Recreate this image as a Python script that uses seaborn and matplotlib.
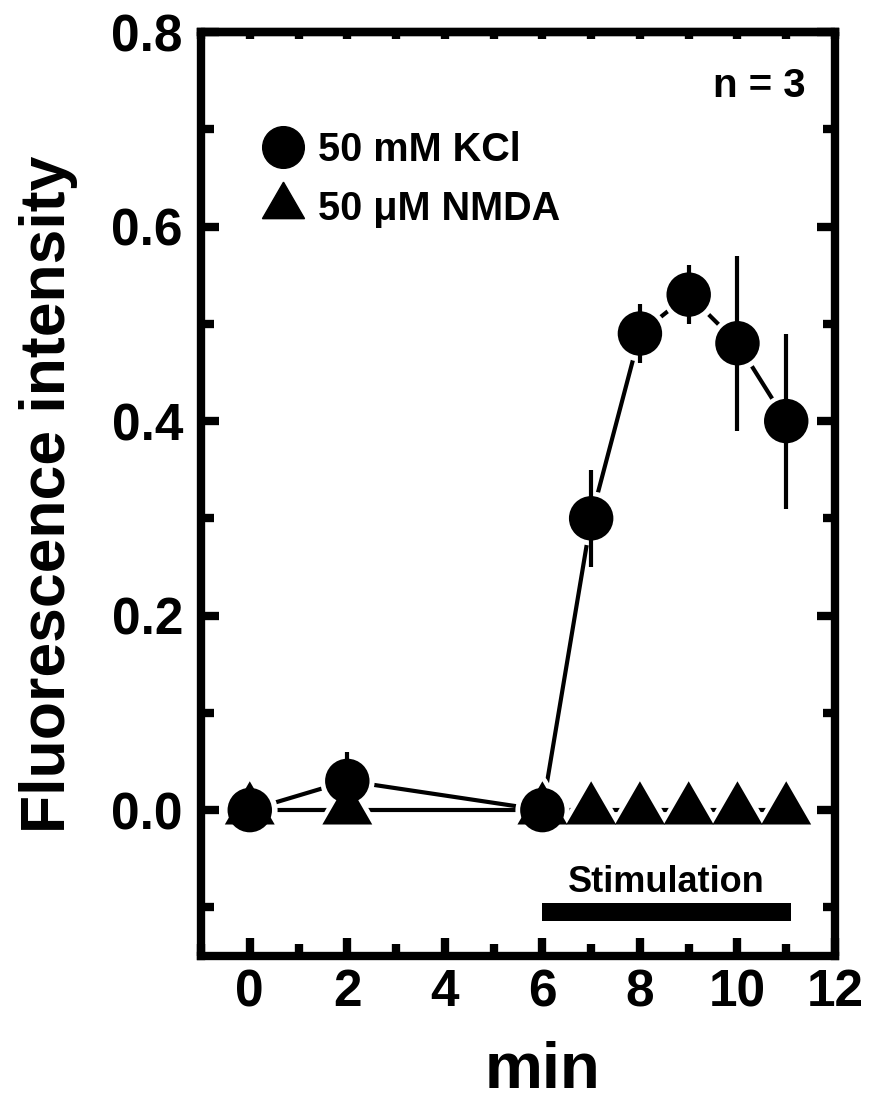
import numpy as np
import pandas as pd
import matplotlib
matplotlib.use("Agg")
import matplotlib.pyplot as plt
from matplotlib.lines import Line2D
from matplotlib.ticker import MultipleLocator
import seaborn as sns

# ---- data -------------------------------------------------------------
kcl_time = [0, 2, 6, 7, 8, 9, 10, 11]
kcl_mean = [0.0, 0.03, 0.0, 0.30, 0.49, 0.53, 0.48, 0.40]
kcl_err = [0.0, 0.03, 0.0, 0.05, 0.03, 0.03, 0.09, 0.09]

nmda_time = [0, 2, 6, 7, 8, 9, 10, 11]
nmda_mean = [0.0, 0.0, 0.0, 0.0, 0.0, 0.0, 0.0, 0.0]
nmda_err = [0.0, 0.0, 0.0, 0.0, 0.0, 0.0, 0.0, 0.0]

labels = ["50 mM KCl", "50 \u03bcM NMDA"]
stim_start, stim_end = 6.0, 11.1
x_ticks = [0, 2, 4, 6, 8, 10, 12]
y_ticks = [0.0, 0.2, 0.4, 0.6, 0.8]

df = pd.concat([
    pd.DataFrame({"min": kcl_time, "value": kcl_mean, "err": kcl_err, "cond": labels[0]}),
    pd.DataFrame({"min": nmda_time, "value": nmda_mean, "err": nmda_err, "cond": labels[1]}),
], ignore_index=True)

# ---- style ------------------------------------------------------------
sns.set_theme(style="ticks")
plt.rcParams["font.family"] = ["Liberation Sans", "DejaVu Sans"]
plt.rcParams["font.weight"] = "bold"
plt.rcParams["axes.labelweight"] = "bold"
for key in ["text.color", "axes.labelcolor", "xtick.color", "ytick.color",
            "xtick.labelcolor", "ytick.labelcolor", "axes.edgecolor"]:
    plt.rcParams[key] = "black"

W, H, DPI = 879, 1103, 100
fig = plt.figure(figsize=(W / DPI, H / DPI), dpi=DPI)
ax = fig.add_axes([201 / W, 1 - 956 / H, (835 - 201) / W, (956 - 32) / H])

circle_ms = 32.0          # marker size in points
tri_marker = (3, 0, 0)    # equilateral triangle
tri_ms = 41.5
pal = {labels[0]: "black", labels[1]: "black"}

# connecting lines
sns.lineplot(data=df, x="min", y="value", hue="cond", palette=pal,
             estimator=None, sort=True, lw=3.0, legend=False, ax=ax, zorder=1)

# white halos leave a small gap between the lines and each marker
for cond, mk, ms in [(labels[0], "o", circle_ms), (labels[1], tri_marker, tri_ms)]:
    sub = df[df["cond"] == cond]
    sns.scatterplot(data=sub, x="min", y="value", marker=mk, s=ms ** 2,
                    color="black", edgecolor="white", linewidth=7,
                    legend=False, ax=ax, zorder=2)

# error bars
sub = df[df["cond"] == labels[0]]
ax.errorbar(sub["min"], sub["value"], yerr=sub["err"], fmt="none",
            ecolor="black", elinewidth=3.0, capsize=0, zorder=3)

# solid markers on top
for cond, mk, ms in [(labels[1], tri_marker, tri_ms), (labels[0], "o", circle_ms)]:
    sub = df[df["cond"] == cond]
    sns.scatterplot(data=sub, x="min", y="value", marker=mk, s=ms ** 2,
                    color="black", edgecolor="none", linewidth=0,
                    legend=False, ax=ax, zorder=4)

# stimulation bar
ax.fill_between([stim_start, stim_end], -0.114, -0.095, color="black",
                lw=0, zorder=2)
ax.text((stim_start + stim_end) / 2, -0.084, "Stimulation", ha="center",
        va="baseline", fontsize=26, fontweight="bold", color="black")

ax.text(0.953, 0.930, "n = 3", transform=ax.transAxes, ha="right",
        va="baseline", fontsize=29, fontweight="bold", color="black")

# ---- axes -------------------------------------------------------------
ax.set_xlim(-1, 12)
ax.set_ylim(-0.15, 0.8)
ax.set_xticks(x_ticks)
ax.set_xticklabels([str(t) for t in x_ticks])
ax.set_yticks(y_ticks)
ax.set_yticklabels([f"{t:.1f}" for t in y_ticks])
ax.xaxis.set_minor_locator(MultipleLocator(1))
ax.yaxis.set_minor_locator(MultipleLocator(0.1))

for sp in ax.spines.values():
    sp.set_visible(True)
    sp.set_linewidth(6)
    sp.set_color("black")

ax.tick_params(which="both", direction="in", color="black", width=6,
               bottom=True, left=True, right=True, top=False,
               labelcolor="black")
ax.tick_params(which="major", length=13)
ax.tick_params(which="minor", length=9)
ax.tick_params(axis="x", which="major", labelsize=37, pad=9)
ax.tick_params(axis="y", which="major", labelsize=37, pad=13)
for lab in ax.get_xticklabels() + ax.get_yticklabels():
    lab.set_fontweight("bold")

# short ticks along the top edge
top = ax.secondary_xaxis("top")
top.set_xticks(x_ticks)
top.xaxis.set_minor_locator(MultipleLocator(1))
top.tick_params(which="both", direction="in", length=5, width=6,
                labeltop=False, color="black")
top.spines["top"].set_linewidth(6)

ax.set_xlabel("min", fontsize=47, fontweight="bold", color="black")
ax.set_ylabel("Fluorescence intensity", fontsize=45, fontweight="bold",
              color="black")
ax.xaxis.set_label_coords(0.539, -0.0925)
ax.yaxis.set_label_coords(-0.194, 0.5)

# ---- legend -----------------------------------------------------------
handles = [
    Line2D([], [], ls="none", marker="o", color="black", markersize=30),
    Line2D([], [], ls="none", marker=tri_marker, color="black", markersize=35),
]
leg = ax.legend(handles, labels, loc="upper left", bbox_to_anchor=(0.0985, 0.8925),
                frameon=False, prop={"size": 28.5, "weight": "bold"},
                handlelength=1.0, handletextpad=0.39, labelspacing=0.52,
                borderpad=0, borderaxespad=0)
for t in leg.get_texts():
    t.set_color("black")

fig.savefig("out.png", dpi=DPI)
